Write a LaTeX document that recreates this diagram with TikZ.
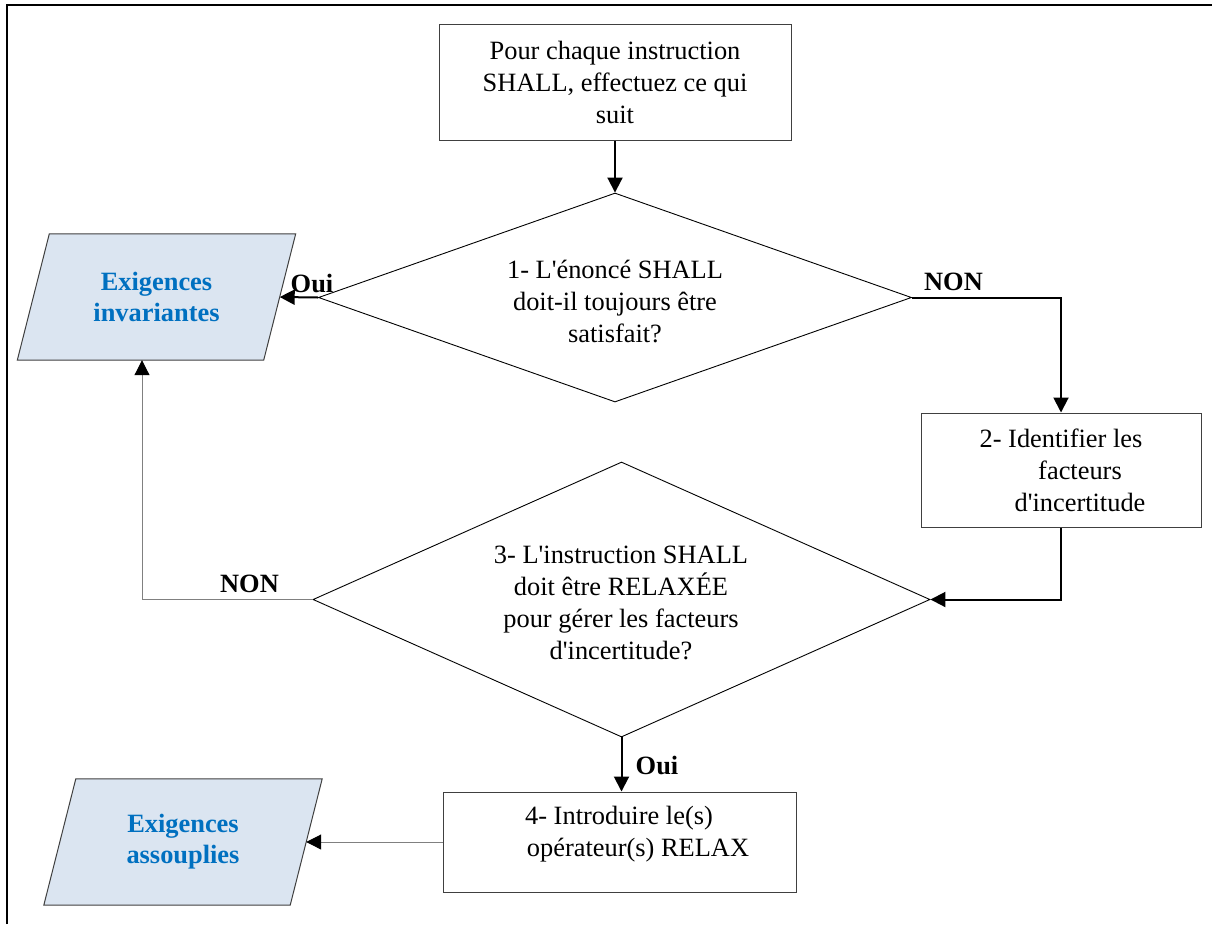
\documentclass[tikz,border=0pt]{standalone}
\usepackage{fontspec}
\setmainfont{Liberation Serif}
\usetikzlibrary{shapes.geometric,arrows.meta,backgrounds}
\definecolor{boxline}{HTML}{404040}
\definecolor{linkgray}{HTML}{808080}
\definecolor{outfill}{HTML}{DBE5F1}
\definecolor{outtext}{HTML}{0070C0}
\newcommand{\apos}{\textquotesingle}
\tikzset{
  every node/.style={font=\fontsize{26.4}{32}\selectfont},
  stepbox/.style={draw=boxline, line width=1pt, rectangle, inner sep=0pt},
  testbox/.style={draw=black, line width=0.9pt, diamond, inner sep=0pt},
  outbox/.style={rectangle, inner sep=0pt, minimum width=246pt, minimum height=126pt,
                 text=outtext, font=\fontsize{26.4}{31}\selectfont\bfseries, align=center},
  boxtext/.style={align=center, inner sep=0pt},
  tag/.style={font=\fontsize{26.4}{32}\selectfont\bfseries, inner sep=0pt},
  tip/.style={-{Triangle[length=15pt,width=15pt,color=black]}},
  mainlink/.style={tip, draw=black, line width=2pt},
  sidelink/.style={tip, draw=linkgray, line width=1pt},
}
\begin{document}
\begin{tikzpicture}[x=1pt,y=-1pt]
\useasboundingbox (0,0) rectangle (1212,924);

% page frame (left and top rules)
\draw[line width=2.6pt] (7,924) -- (7,5) -- (1212,5);

% process boxes
\node[stepbox, minimum width=352pt, minimum height=116pt, align=center] (b0) at (615,82)
  {Pour chaque instruction\\SHALL, effectuez ce qui\\suit};
\node[stepbox, minimum width=280pt, minimum height=114pt, align=center] (b2) at (1061,470)
  {2- Identifier les\\\hspace*{38pt}facteurs\\\hspace*{38pt}d\apos incertitude};
\node[stepbox, minimum width=353pt, minimum height=100pt] (b4) at (619.5,842) {};
\node[boxtext] (t4) at (619,834) {4- Introduire le(s)\\\hspace*{38pt}opérateur(s) RELAX};

% decision diamonds
\node[testbox, minimum width=593pt, minimum height=209pt] (d1) at (615,297.5) {};
\node[boxtext] (t1) at (615,302) {1- L\apos énoncé SHALL\\doit-il toujours être\\satisfait?};
\node[testbox, minimum width=617pt, minimum height=275pt] (d3) at (621.5,599.5) {};
\node[boxtext] (t3) at (621,603) {3- L\apos instruction SHALL\\doit être RELAXÉE\\pour gérer les facteurs\\d\apos incertitude?};

% output parallelograms
\node[outbox] (p1) at (156.5,297) {Exigences\\invariantes};
\node[outbox] (p2) at (183,842) {Exigences\\assouplies};
\begin{scope}[on background layer]
  \foreach \p in {p1,p2}{
    \draw[boxline, line width=1pt, fill=outfill]
      ([xshift=16pt]\p.north west) -- ([xshift=16pt]\p.north east)
      -- ([xshift=-16pt]\p.south east) -- ([xshift=-16pt]\p.south west) -- cycle;
  }
\end{scope}

% connectors
\draw[mainlink] (b0.south) -- (d1.north);
\draw[mainlink] (d1.west) -- (p1.east);
\draw[mainlink] (d1.east) -| (b2.north);
\draw[mainlink] (b2.south) |- (d3.east);
\draw[sidelink] (d3.west) -| ([xshift=-14.5pt]p1.south);
\draw[mainlink] (d3.south) -- (d3.south |- b4.north);
\draw[sidelink] (b4.west) -- (p2.east);

% branch labels
\node[tag] (l1) at (312,283) {Oui};
\node[tag] (l2) at (953.5,281.5) {NON};
\node[tag] (l3) at (249.5,584) {NON};
\node[tag] (l4) at (657,765) {Oui};
\end{tikzpicture}
\end{document}
